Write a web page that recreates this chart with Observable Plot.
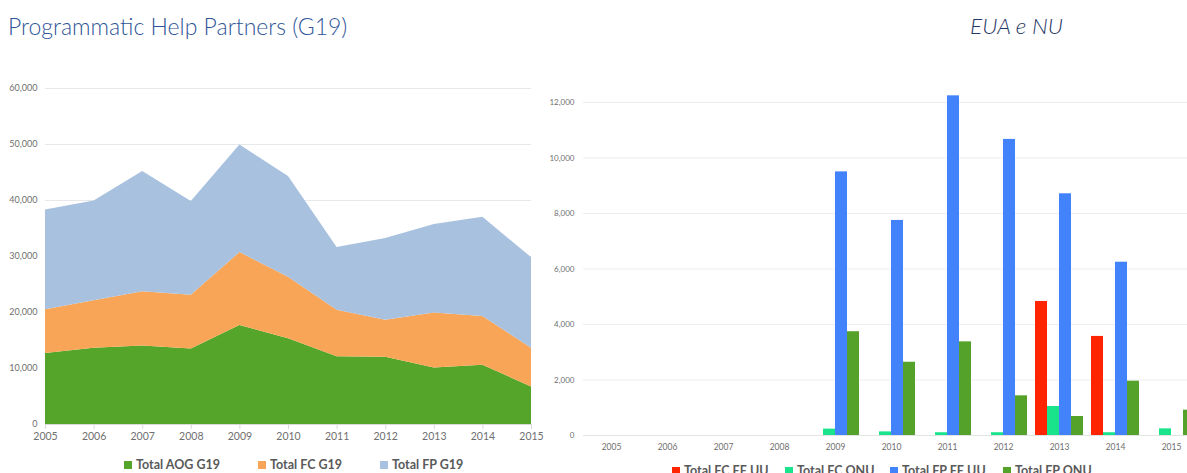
<!DOCTYPE html>
<html>
<head>
<meta charset="utf-8">
<script src="https://cdn.jsdelivr.net/npm/d3@7"></script>
<script src="https://cdn.jsdelivr.net/npm/@observablehq/plot@0.6"></script>
<style>
  html, body { margin: 0; padding: 0; background: #fff; overflow: hidden; }
  #page { position: relative; width: 1187px; height: 473px; overflow: hidden; font-family: Lato, "Open Sans", sans-serif; }
  .title { position: absolute; white-space: nowrap; font-weight: 300; }
  #t1 { left: 8px; top: 12px; font-size: 23px; color: #2F5597; }
  #t2 { left: 970px; top: 12px; font-size: 22.5px; color: #1F3864; font-style: italic; }
  #left { position: absolute; left: 0; top: 60px; width: 560px; }
  #right { position: absolute; left: 540px; top: 70px; width: 660px; }
  #left svg, #right svg { max-width: none !important; }
  .legend { position: absolute; display: flex; font-weight: bold; font-size: 12.5px; color: #595959; white-space: nowrap; }
  .legend .item { position: absolute; display: flex; align-items: center; }
  .legend .sw { width: 8px; height: 8px; margin-right: 4px; }
</style>
</head>
<body>
<div id="page">
  <div class="title" id="t1">Programmatic Help Partners (G19)</div>
  <div class="title" id="t2">EUA e NU</div>
  <div id="left"></div>
  <div id="right"></div>
  <div class="legend" id="leg1" style="left:0; top:457px;"></div>
  <div class="legend" id="leg2" style="left:0; top:463px;"></div>
</div>
<script>
// ---------- data ----------
const years = [2005, 2006, 2007, 2008, 2009, 2010, 2011, 2012, 2013, 2014, 2015];

// Left chart (stacked areas)
const leftSeries = ["Total AOG G19", "Total FC G19", "Total FP G19"];
const leftColors = ["#54A529", "#F9A557", "#A8C1DF"];
const aogG19 = [12700, 13600, 14000, 13500, 17700, 15300, 12100, 12000, 10100, 10600, 6700];
const fcG19  = [7800, 8500, 9700, 9600, 13000, 11000, 8300, 6600, 9800, 8700, 6900];
const fpG19  = [17800, 17800, 21500, 16700, 19200, 18000, 11200, 14600, 15800, 17700, 16200];
const leftTicks = [0, 10000, 20000, 30000, 40000, 50000, 60000];

// Right chart (grouped bars)
const rightSeries = ["Total FC EE UU", "Total FC ONU", "Total FP EE UU", "Total FP ONU"];
const rightColors = ["#FF2500", "#19E48C", "#4282FB", "#55A22A"];
const fcEEUU = [0, 0, 0, 0, 0, 0, 0, 0, 4830, 3570, 0];
const fcONU  = [0, 0, 0, 0, 230, 130, 100, 100, 1045, 100, 240];
const fpEEUU = [0, 0, 0, 0, 9500, 7750, 12240, 10670, 8710, 6245, 0];
const fpONU  = [0, 0, 0, 0, 3740, 2640, 3375, 1430, 685, 1957, 913];
const rightTicks = [0, 2000, 4000, 6000, 8000, 10000, 12000];

// ---------- tables ----------
const leftArrays = [aogG19, fcG19, fpG19];
const leftData = [];
leftSeries.forEach((s, k) => years.forEach((y, i) => leftData.push({year: y, series: s, value: leftArrays[k][i]})));

const rightArrays = [fcEEUU, fcONU, fpEEUU, fpONU];
const rightData = [];
years.forEach((y, i) => rightSeries.forEach((s, k) => rightData.push({year: y, series: s, value: rightArrays[k][i]})));

const axisColor = "#6f6f6f";

// ---------- left chart ----------
const left = Plot.plot({
  width: 560, height: 394,
  marginLeft: 45, marginRight: 29, marginTop: 28, marginBottom: 30,
  style: {fontFamily: "Lato, 'Open Sans', sans-serif", background: "transparent"},
  x: {domain: [2005, 2015]},
  y: {domain: [0, 60000]},
  color: {domain: leftSeries, range: leftColors},
  marks: [
    Plot.gridY(leftTicks, {stroke: "#E8E8E8", strokeOpacity: 1}),
    Plot.areaY(leftData, {x: "year", y: "value", z: "series", fill: "series"}),
    Plot.ruleY([0], {stroke: "#D9D9D9"}),
    Plot.axisY(leftTicks, {tickSize: 0, tickPadding: 8, tickFormat: d3.format(","), fontSize: 9, color: axisColor, label: null}),
    Plot.axisX(years, {tickSize: 5, tickPadding: 3, tickFormat: d => String(d), fontSize: 10.5, color: axisColor, stroke: "#D9D9D9", label: null})
  ]
});
document.getElementById("left").appendChild(left);

// ---------- right chart ----------
const right = Plot.plot({
  width: 660, height: 390,
  marginLeft: 43, marginRight: 1, marginTop: 32, marginBottom: 25,
  facet: {marginTop: 0, marginBottom: 0, marginLeft: 0, marginRight: 0},
  style: {fontFamily: "Lato, 'Open Sans', sans-serif", background: "transparent"},
  fx: {domain: years, padding: 0, range: [43, 659]},
  x: {domain: rightSeries, paddingInner: 0, paddingOuter: 0.23, axis: null},
  y: {domain: [0, 12000]},
  color: {domain: rightSeries, range: rightColors},
  marks: [
    Plot.gridY(rightTicks, {stroke: "#EDEDED", strokeOpacity: 1}),
    Plot.barY(rightData, {fx: "year", x: "series", y: "value", fill: "series", filter: d => d.value > 0}),
    Plot.ruleY([0], {stroke: "#E3E3E3"}),
    Plot.axisY(rightTicks, {tickSize: 0, tickPadding: 9, tickFormat: d3.format(","), fontSize: 8, color: axisColor, label: null}),
    Plot.axisFx({tickSize: 0, tickPadding: 8, fontSize: 8.5, color: axisColor, label: null, anchor: "bottom", tickFormat: d => String(d)})
  ]
});
document.getElementById("right").appendChild(right);

// ---------- legends ----------
function legend(id, names, colors, lefts) {
  const el = document.getElementById(id);
  names.forEach((n, i) => {
    const it = document.createElement("div");
    it.className = "item";
    it.style.left = lefts[i] + "px";
    const sw = document.createElement("span");
    sw.className = "sw";
    sw.style.background = colors[i];
    const tx = document.createElement("span");
    tx.textContent = n;
    it.appendChild(sw); it.appendChild(tx);
    el.appendChild(it);
  });
}
legend("leg1", leftSeries, leftColors, [124, 258, 380]);
legend("leg2", rightSeries, rightColors, [672, 785, 890, 1003]);
</script>
</body>
</html>
